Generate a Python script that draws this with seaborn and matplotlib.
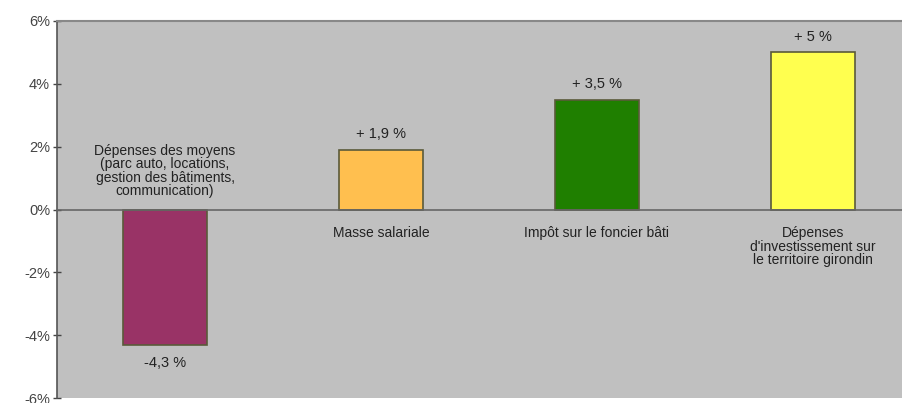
import matplotlib
matplotlib.use("Agg")
import matplotlib.pyplot as plt
import seaborn as sns

categories = [
    "Dépenses des moyens\n(parc auto, locations,\ngestion des bâtiments,\ncommunication)",
    "Masse salariale",
    "Impôt sur le foncier bâti",
    "Dépenses\nd'investissement sur\nle territoire girondin",
]
values = [-4.3, 1.9, 3.5, 5.0]
value_labels = ["-4,3 %", "+ 1,9 %", "+ 3,5 %", "+ 5 %"]
colors = ["#993366", "#FFBF4F", "#1F7F00", "#FFFF4F"]
yticks = [-6, -4, -2, 0, 2, 4, 6]
ytick_labels = ["-6%", "-4%", "-2%", "0%", "2%", "4%", "6%"]

sns.set_style("white")
plt.rcParams["font.family"] = ["Liberation Sans", "DejaVu Sans"]

W, H = 902, 403
fig = plt.figure(figsize=(W / 100, H / 100), dpi=100)
fig.patch.set_facecolor("white")
left, right, top, bottom = 57, 921, 21, 398
ax = fig.add_axes([left / W, 1 - bottom / H, (right - left) / W, (bottom - top) / H])
ax.set_facecolor("#C0C0C0")

sns.barplot(x=list(range(len(categories))), y=values, hue=list(range(len(categories))),
            palette=colors, width=0.39, edgecolor="#5a5a3a", linewidth=1.2,
            legend=False, ax=ax, saturation=1)

ax.set_xlim(-0.5, len(categories) - 0.5)
ax.set_ylim(-6, 6)
ax.set_yticks(yticks)
ax.set_yticklabels(ytick_labels, fontsize=10.5, color="#444444")
ax.set_xticks([0.5, 1.5, 2.5])
ax.set_xticklabels([])
ax.tick_params(axis="x", direction="inout", length=7, width=1, color="#444444")
ax.tick_params(axis="y", direction="inout", length=6, width=1, color="#444444", pad=2, left=True)

ax.spines["bottom"].set_position(("data", 0))
ax.spines["bottom"].set_color("#666666")
ax.spines["bottom"].set_linewidth(1.2)
ax.spines["left"].set_color("#555555")
ax.spines["left"].set_linewidth(1.2)
ax.spines["top"].set_color("#888888")
ax.spines["top"].set_linewidth(1.5)
ax.spines["right"].set_visible(False)
ax.set_xlabel("")
ax.set_ylabel("")

for i, (v, lab, cat) in enumerate(zip(values, value_labels, categories)):
    if v >= 0:
        ax.annotate(lab, (i, v), xytext=(0, 6), textcoords="offset points",
                    ha="center", va="bottom", fontsize=10.5, color="#222222")
        ax.annotate(cat, (i, 0), xytext=(0, -12), textcoords="offset points",
                    ha="center", va="top", fontsize=10, color="#222222", linespacing=0.95)
    else:
        ax.annotate(lab, (i, v), xytext=(0, -8), textcoords="offset points",
                    ha="center", va="top", fontsize=10.5, color="#222222")
        ax.annotate(cat, (i, 0), xytext=(0, 8), textcoords="offset points",
                    ha="center", va="bottom", fontsize=10, color="#222222", linespacing=0.95)

fig.savefig("out.png", dpi=100)
